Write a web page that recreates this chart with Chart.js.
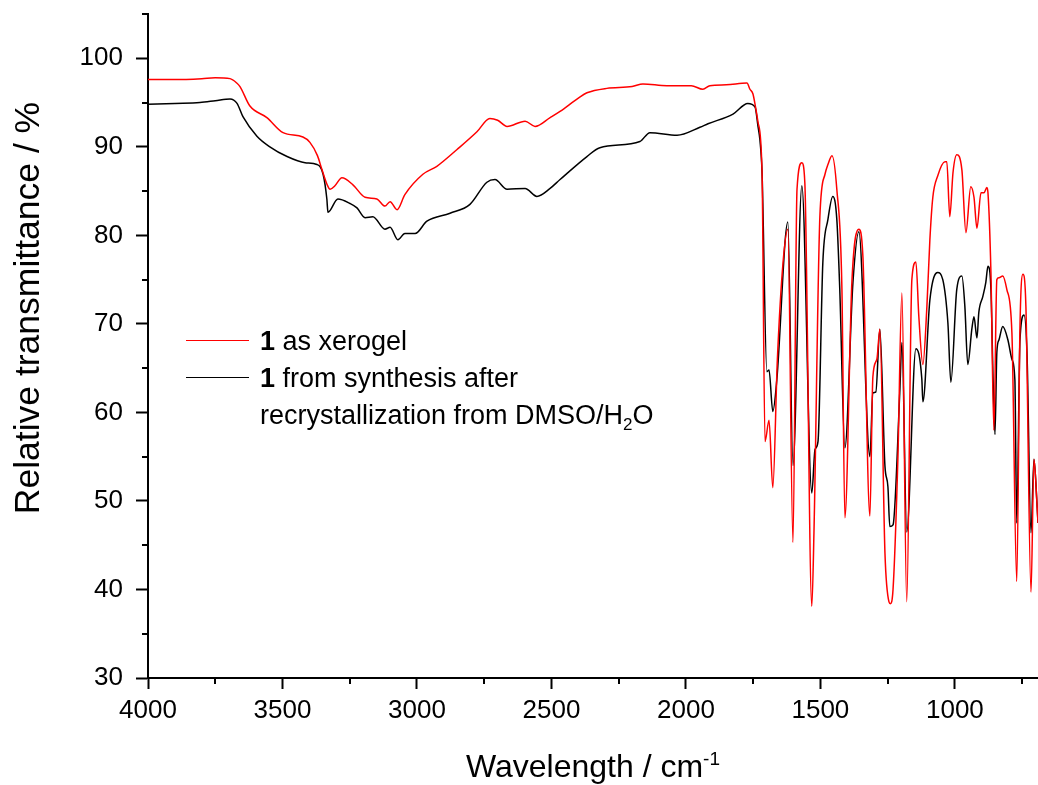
<!DOCTYPE html>
<html lang="en">
<head>
    <meta charset="UTF-8">
    <title>IR spectra of 1</title>
    <script src="https://cdn.jsdelivr.net/npm/chart.js"></script>
    <style>
        body, html {
            margin: 0;
            padding: 0;
            background: #fff;
            overflow: hidden;
            font-family: "Liberation Sans", Arial, sans-serif;
        }
        #wrap {
            position: relative;
            width: 1038px;
            height: 785px;
        }
        #legend {
            position: absolute;
            left: 186px;
            top: 323px;
            font-size: 27px;
            line-height: 37px;
            color: #000;
            white-space: nowrap;
        }
        .sw {
            display: inline-block;
            width: 63px;
            border-top: 1px solid;
            vertical-align: middle;
            margin-right: 11px;
            margin-top: -4px;
        }
        #legend sub { font-size: 17px; line-height: 0; vertical-align: -6px; }
        #xTitle {
            position: absolute;
            left: 148px;
            width: 890px;
            top: 746px;
            text-align: center;
            font-size: 32px;
            line-height: 40px;
        }
        #xTitle sup { font-size: 19px; line-height: 0; vertical-align: 12px; }
        #yTitle {
            position: absolute;
            left: -223px;
            top: 288px;
            width: 500px;
            text-align: center;
            font-size: 35.5px;
            line-height: 40px;
            transform: rotate(-90deg);
        }
    </style>
</head>
<body>
<div id="wrap">
    <canvas id="irChart"></canvas>
    <div id="legend">
        <div><span class="sw" style="border-color:#ff0000"></span><b>1</b> as xerogel</div>
        <div><span class="sw" style="border-color:#000"></span><b>1</b> from synthesis after</div>
        <div style="padding-left:74px"> recrystallization from DMSO/H<sub>2</sub>O</div>
    </div>
    <div id="xTitle">Wavelength / cm<sup>-1</sup></div>
    <div id="yTitle">Relative transmittance / %</div>
</div>

<script>
    // xerogel spectrum (red)
    const xerogelWn = [4000, 3900, 3800, 3750, 3695, 3670, 3658, 3621, 3558, 3498, 3424, 3398, 3370, 3353, 3335, 3323,
        3305, 3279, 3238, 3193, 3149, 3119, 3100, 3074, 3045, 2978, 2926, 2851, 2777, 2729, 2700, 2665, 2598, 2561,
        2505, 2468, 2400, 2368, 2294, 2200, 2160, 2071, 1980, 1937, 1911, 1850, 1773, 1762, 1751, 1743, 1732, 1717,
        1706, 1691, 1677, 1660, 1639, 1621, 1602, 1587, 1569, 1558, 1532, 1524, 1502, 1483, 1472, 1457, 1439, 1420,
        1409, 1383, 1357, 1342, 1316, 1305, 1290, 1279, 1260, 1245, 1240, 1230, 1212, 1197, 1179, 1160, 1145, 1134,
        1119, 1104, 1093, 1082, 1064, 1037, 1030, 1019, 1007, 993, 974, 959, 941, 929, 918, 903, 892, 881, 877, 866,
        855, 844, 836, 822, 807, 788, 770, 758, 747, 736, 717, 706, 695, 691];
    const xerogelT = [97.6, 97.6, 97.7, 97.8, 97.7, 97.2, 96.8, 94.6, 93.3, 91.6, 91.1, 90.5, 89.0, 87.4, 85.8, 85.2,
        85.6, 86.5, 85.7, 84.3, 84.1, 83.3, 83.8, 82.9, 84.6, 86.9, 87.8, 89.7, 91.7, 93.2, 93.0, 92.3, 92.9, 92.3,
        93.3, 94.0, 95.5, 96.1, 96.6, 96.8, 97.1, 96.9, 96.9, 96.5, 96.9, 97.0, 97.2, 96.5, 96.0, 94.8, 92.8, 87.1,
        56.7, 59.1, 51.5, 66.0, 76.9, 80.7, 45.3, 85.2, 88.2, 86.0, 38.1, 46.4, 82.1, 86.9, 88.0, 89.0, 85.2, 73.9,
        48.1, 74.7, 80.7, 77.6, 48.3, 64.0, 66.0, 69.4, 44.1, 38.6, 38.4, 40.0, 54.7, 73.5, 38.6, 75.0, 77.0, 70.8,
        65.4, 72.0, 79.5, 84.3, 86.7, 88.3, 88.3, 82.1, 87.1, 89.1, 87.4, 80.3, 85.5, 84.3, 80.8, 84.8, 84.8, 85.4, 84.8, 75.8,
        58.0, 75.0, 75.2, 75.4, 73.9, 69.0, 40.9, 69.7, 75.6, 72.0, 39.7, 54.7, 49.8, 47.5];

    // as synthesised, recrystallised (black)
    const synthWn = [4000, 3900, 3807, 3750, 3695, 3669, 3647, 3595, 3547, 3483, 3416, 3372, 3349, 3335, 3331, 3294,
        3249, 3223, 3193, 3164, 3119, 3100, 3071, 3045, 3007, 2963, 2877, 2803, 2740, 2710, 2665, 2598, 2554, 2505,
        2468, 2368, 2320, 2171, 2134, 2033, 1948, 1918, 1825, 1770, 1743, 1732, 1725, 1717, 1699, 1691, 1677, 1662,
        1621, 1602, 1569, 1532, 1520, 1509, 1491, 1472, 1454, 1439, 1428, 1409, 1379, 1357, 1316, 1305, 1294, 1279,
        1260, 1249, 1242, 1230, 1205, 1197, 1179, 1145, 1123, 1119, 1093, 1064, 1045, 1026, 1015, 993, 974, 963, 952,
        937, 929, 918, 911, 896, 885, 877, 866, 858, 851, 844, 836, 822, 803, 788, 777, 770, 758, 743, 732, 717, 706,
        695, 691];
    const synthT = [94.8, 94.9, 95.0, 95.2, 95.4, 94.9, 93.4, 91.2, 90.0, 88.9, 88.2, 88.0, 86.9, 84.1, 82.6, 84.1,
        83.6, 83.1, 82.0, 82.1, 80.7, 80.9, 79.5, 80.2, 80.2, 81.6, 82.5, 83.5, 86.0, 86.3, 85.2, 85.3, 84.4, 85.3,
        86.3, 88.9, 89.9, 90.6, 91.6, 91.3, 92.2, 92.6, 93.7, 94.9, 94.5, 92.3, 90.8, 87.1, 64.6, 64.8, 60.1, 63.7,
        81.5, 54.0, 85.6, 50.9, 55.8, 56.7, 76.9, 81.8, 84.4, 81.8, 73.9, 56.0, 74.7, 80.4, 55.0, 62.2, 62.3, 69.4,
        53.9, 51.6, 47.1, 47.3, 62.2, 67.9, 46.5, 67.2, 63.8, 61.2, 72.7, 75.8, 75.0, 70.1, 63.4, 73.9, 75.4, 72.0, 65.4,
        69.4, 70.8, 68.4, 71.3, 73.1, 74.7, 76.5, 73.9, 63.7, 57.5, 66.8, 68.2, 69.7, 68.2, 66.0, 63.7, 47.5, 68.2, 71.0, 66.8, 46.4, 54.7,
        49.8, 47.5];

    const xMajor = [4000, 3500, 3000, 2500, 2000, 1500, 1000];
    const xMinor = [3750, 3250, 2750, 2250, 1750, 1250, 750];
    const yMajor = [30, 40, 50, 60, 70, 80, 90, 100];
    const yMinor = [35, 45, 55, 65, 75, 85, 95, 105];

    const toPoints = (wn, t) => wn.map((w, i) => ({ x: w, y: t[i] }));

    // Origin-style short minor ticks, drawn through the scales
    const minorTicks = {
        id: 'minorTicks',
        afterDraw(chart) {
            const { ctx, scales: { x, y } } = chart;
            ctx.save();
            ctx.strokeStyle = '#000';
            ctx.lineWidth = 2;
            ctx.beginPath();
            xMinor.forEach(v => {
                const px = Math.round(x.getPixelForValue(v));
                ctx.moveTo(px, x.top);
                ctx.lineTo(px, x.top + 6);
            });
            yMinor.forEach(v => {
                const py = Math.round(y.getPixelForValue(v));
                ctx.moveTo(y.right, py);
                ctx.lineTo(y.right - 6, py);
            });
            ctx.stroke();
            ctx.restore();
        }
    };

    const tickFont = { family: "'Liberation Sans', Arial, sans-serif", size: 26 };

    new Chart(document.getElementById('irChart').getContext('2d'), {
        type: 'line',
        data: {
            datasets: [
                {
                    label: '1 as xerogel',
                    data: toPoints(xerogelWn, xerogelT),
                    borderColor: '#ff0000',
                    borderWidth: 1.5,
                    pointRadius: 0,
                    cubicInterpolationMode: 'monotone'
                },
                {
                    label: '1 from synthesis after recrystallization from DMSO/H2O',
                    data: toPoints(synthWn, synthT),
                    borderColor: '#000000',
                    borderWidth: 1.5,
                    pointRadius: 0,
                    cubicInterpolationMode: 'monotone'
                }
            ]
        },
        options: {
            responsive: true,
            maintainAspectRatio: false,
            animation: false,
            layout: { padding: { top: 14, right: 0, left: 0, bottom: 0 } },
            plugins: {
                legend: { display: false },
                tooltip: { enabled: false }
            },
            scales: {
                x: {
                    type: 'linear',
                    reverse: true,
                    min: 691,
                    max: 4000,
                    afterBuildTicks: axis => { axis.ticks = xMajor.map(v => ({ value: v })); },
                    afterFit: axis => { axis.height = 107; axis.paddingRight = 0; },
                    grid: { drawOnChartArea: false, tickLength: 11, tickWidth: 2, tickColor: '#000' },
                    border: { color: '#000', width: 2 },
                    ticks: { color: '#000', font: tickFont, padding: 6, maxRotation: 0, autoSkip: false,
                        callback: v => String(v) }
                },
                y: {
                    min: 30,
                    max: 105,
                    afterBuildTicks: axis => { axis.ticks = yMajor.map(v => ({ value: v })); },
                    afterFit: axis => { axis.width = 148; axis.paddingTop = 0; axis.paddingBottom = 0; },
                    grid: { drawOnChartArea: false, tickLength: 12, tickWidth: 2, tickColor: '#000' },
                    border: { color: '#000', width: 2 },
                    ticks: { color: '#000', font: tickFont, padding: 13, callback: v => String(v) }
                }
            }
        },
        plugins: [minorTicks]
    });
</script>
</body>
</html>
